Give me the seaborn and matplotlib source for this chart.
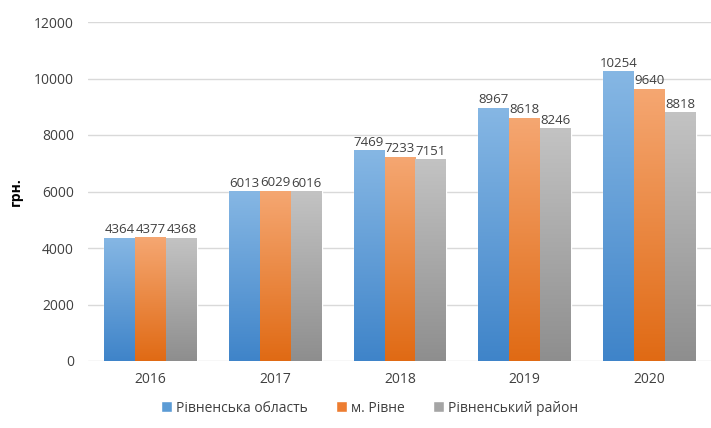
import matplotlib
matplotlib.use("Agg")
import matplotlib.pyplot as plt
import matplotlib.colors as mcolors
import numpy as np
import pandas as pd
import seaborn as sns
from matplotlib.patches import Patch

years = ["2016", "2017", "2018", "2019", "2020"]
series = ["Рівненська область", "м. Рівне", "Рівненський район"]
oblast = [4364, 6013, 7469, 8967, 10254]
rivne_city = [4377, 6029, 7233, 8618, 9640]
raion = [4368, 6016, 7151, 8246, 8818]

colors_top = ["#86B7E4", "#F5A772", "#C3C3C3"]
colors_bot = ["#3F84C9", "#E06A14", "#8E8E8E"]
colors_mid = ["#5B9BD5", "#ED7D31", "#A5A5A5"]

rows = []
for s, vals in zip(series, [oblast, rivne_city, raion]):
    for y, v in zip(years, vals):
        rows.append({"year": y, "series": s, "value": v})
df = pd.DataFrame(rows)

sns.set_style("white")
plt.rcParams['font.family'] = ['Open Sans', 'DejaVu Sans']

fig = plt.figure(figsize=(7.11, 4.28), dpi=100)
ax = fig.add_axes([88/711, 1-361/428, (712-88)/711, (361-22)/428])

sns.barplot(data=df, x="year", y="value", hue="series", order=years,
            hue_order=series, palette=colors_mid, width=0.744, ax=ax,
            saturation=1, legend=True, errorbar=None)

ax.set_ylim(0, 12000)
ax.set_yticks(range(0, 12001, 2000))
ax.grid(axis="y", color="#D9D9D9", linewidth=1)
ax.set_axisbelow(True)
for sp in ax.spines.values():
    sp.set_visible(False)
ax.tick_params(axis="both", length=0, labelsize=10, colors="#404040")
ax.tick_params(axis="y", pad=10)
ax.tick_params(axis="x", pad=8)
ax.set_xlabel("")
ax.set_ylabel("грн.", fontsize=10, fontweight="bold", color="#000000")
ax.yaxis.set_label_coords(-0.105, 0.5)

# gradient fills
for i, cont in enumerate(ax.containers):
    cmap = mcolors.LinearSegmentedColormap.from_list("g", [colors_bot[i], colors_top[i]])
    grad = np.linspace(0, 1, 256).reshape(-1, 1)
    for bar in cont:
        x0, y0 = bar.get_x(), bar.get_y()
        w, h = bar.get_width(), bar.get_height()
        im = ax.imshow(grad, cmap=cmap, aspect="auto", origin="lower",
                       extent=[x0, x0 + w, y0, y0 + h], zorder=bar.get_zorder())
        im.set_clip_path(bar)
        bar.set_facecolor("none")
    ax.bar_label(cont, labels=[f"{int(v)}" for v in cont.datavalues],
                 fontsize=9.5, color="#404040", padding=1)

ax.set_xlim(-0.5, 4.5)
ax.set_ylim(0, 12000)

leg = ax.get_legend()
leg.remove()
handles = [Patch(facecolor=c) for c in colors_mid]
fig.legend(handles, series, loc="lower center", bbox_to_anchor=(0.52, 0.0),
           ncol=3, frameon=False, fontsize=10, handlelength=0.8, handleheight=0.8,
           handletextpad=0.3, columnspacing=2.0, labelcolor="#404040")

fig.savefig("out.png", dpi=100)
